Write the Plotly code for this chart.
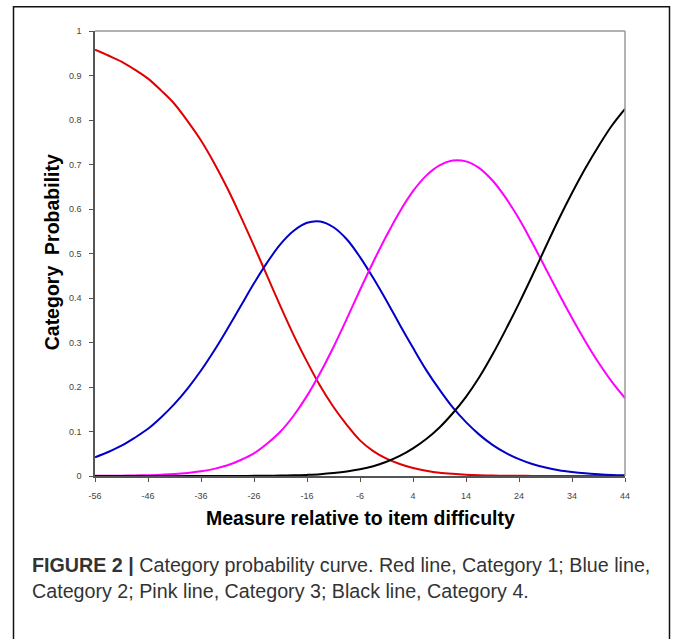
import plotly.graph_objects as go

measure = [-56 + 2.5 * i for i in range(41)]
cat1 = [0.958, 0.945, 0.931, 0.913, 0.893, 0.866, 0.836, 0.797, 0.754, 0.703,
        0.646, 0.583, 0.517, 0.449, 0.381, 0.316, 0.257, 0.202, 0.155, 0.115,
        0.080, 0.056, 0.039, 0.027, 0.018, 0.012, 0.0075, 0.0048, 0.003, 0.0018,
        0.001, 0.0006, 0.0004, 0.0002, 0.0001, 0.0, 0.0, 0.0, 0.0, 0.0, 0.0]
cat2 = [0.042, 0.054, 0.068, 0.086, 0.106, 0.132, 0.162, 0.197, 0.237, 0.282,
        0.331, 0.382, 0.433, 0.480, 0.521, 0.551, 0.569, 0.572, 0.559, 0.532,
        0.492, 0.445, 0.394, 0.340, 0.288, 0.238, 0.194, 0.154, 0.121, 0.093,
        0.070, 0.052, 0.038, 0.027, 0.019, 0.013, 0.009, 0.006, 0.004, 0.0025, 0.0016]
cat3 = [0.0003, 0.0005, 0.0007, 0.0012, 0.0018, 0.003, 0.0045, 0.007, 0.0107, 0.016,
        0.024, 0.036, 0.051, 0.073, 0.100, 0.136, 0.180, 0.232, 0.290, 0.353,
        0.418, 0.481, 0.540, 0.594, 0.640, 0.675, 0.698, 0.709, 0.707, 0.692,
        0.664, 0.625, 0.578, 0.524, 0.467, 0.410, 0.355, 0.303, 0.255, 0.212, 0.175]
cat4 = [0.0, 0.0, 0.0, 0.0, 0.0, 0.0, 0.0, 0.0, 0.0, 0.0,
        0.0001, 0.0001, 0.0003, 0.0005, 0.0009, 0.0015, 0.0025, 0.004, 0.0065, 0.010,
        0.015, 0.022, 0.032, 0.045, 0.062, 0.083, 0.109, 0.141, 0.178, 0.222,
        0.273, 0.329, 0.388, 0.450, 0.514, 0.577, 0.636, 0.691, 0.741, 0.787, 0.825]

x_ticks = [-56, -46, -36, -26, -16, -6, 4, 14, 24, 34, 44]
y_ticks = [0, 0.1, 0.2, 0.3, 0.4, 0.5, 0.6, 0.7, 0.8, 0.9, 1]
y_tick_text = ["0", "0.1", "0.2", "0.3", "0.4", "0.5", "0.6", "0.7", "0.8", "0.9", "1"]

series = [
    ("Category 1", cat1, "#e00000"),
    ("Category 2", cat2, "#0000c8"),
    ("Category 3", cat3, "#ff00ff"),
    ("Category 4", cat4, "#000000"),
]

fig = go.Figure()
for name, vals, col in series:
    fig.add_trace(go.Scatter(x=measure, y=vals, mode="lines", name=name,
                             line=dict(color=col, width=2, shape="spline", smoothing=1.0),
                             cliponaxis=False, showlegend=False))

W, H = 675, 639
L, R, T, B = 95, 625, 30.7, 475.7
pw, ph = R - L, B - T

def px(X):
    return (X - L) / pw

def py(Y):
    return (B - Y) / ph

tick_font = dict(family="Liberation Sans, Arial, sans-serif", size=9, color="#444444")

fig.update_layout(
    width=W, height=H,
    margin=dict(l=L, r=W - R, t=T, b=H - B, pad=0),
    paper_bgcolor="white", plot_bgcolor="white",
    xaxis=dict(range=[-56, 44], tickvals=x_ticks, ticktext=[str(v) for v in x_ticks],
               showgrid=False, zeroline=False, showline=True, linecolor="#555555", linewidth=1.5,
               ticks="outside", ticklen=4, tickcolor="#555555", tickfont=tick_font,
               ticklabelstandoff=6, layer="below traces"),
    yaxis=dict(range=[0, 1], tickvals=y_ticks, ticktext=y_tick_text,
               showgrid=False, zeroline=False, showline=True, linecolor="#555555", linewidth=1.5,
               ticks="outside", ticklen=4, tickcolor="#555555", tickfont=tick_font,
               ticklabelstandoff=6, layer="below traces"),
)

# top/right frame of plot area (lighter grey)
fig.add_shape(type="line", xref="paper", yref="paper", x0=0, x1=1, y0=1, y1=1,
              line=dict(color="#999999", width=1.5))
fig.add_shape(type="line", xref="paper", yref="paper", x0=1, x1=1, y0=0, y1=1,
              line=dict(color="#999999", width=1.5))

# outer figure border
fig.add_shape(type="rect", xref="paper", yref="paper",
              x0=px(13.5), x1=px(669.5), y0=py(648), y1=py(6.5),
              line=dict(color="#111111", width=1.5), fillcolor="rgba(0,0,0,0)")

title_font = dict(family="Liberation Sans, Arial, sans-serif", size=19.5, color="#000000")
fig.add_annotation(text="<b>Measure relative to item difficulty</b>", xref="paper", yref="paper",
                   x=px(360), y=py(518), xanchor="center", yanchor="middle", showarrow=False,
                   font=title_font)
fig.add_annotation(text="<b>Category  Probability</b>", xref="paper", yref="paper",
                   x=px(52), y=py(252), xanchor="center", yanchor="middle", showarrow=False,
                   textangle=-90, font=title_font)

cap_font = dict(family="Liberation Sans, Arial, sans-serif", size=19.7, color="#333333")
fig.add_annotation(text="<b>FIGURE 2 |</b> Category probability curve. Red line, Category 1; Blue line,",
                   xref="paper", yref="paper", x=px(30), y=py(565), xanchor="left", yanchor="middle",
                   showarrow=False, font=cap_font)
fig.add_annotation(text="Category 2; Pink line, Category 3; Black line, Category 4.",
                   xref="paper", yref="paper", x=px(30), y=py(591), xanchor="left", yanchor="middle",
                   showarrow=False, font=cap_font)

fig.write_html("out.html", config={"displayModeBar": False},
               post_script="document.body.style.margin='0';document.body.style.overflow='hidden';")
